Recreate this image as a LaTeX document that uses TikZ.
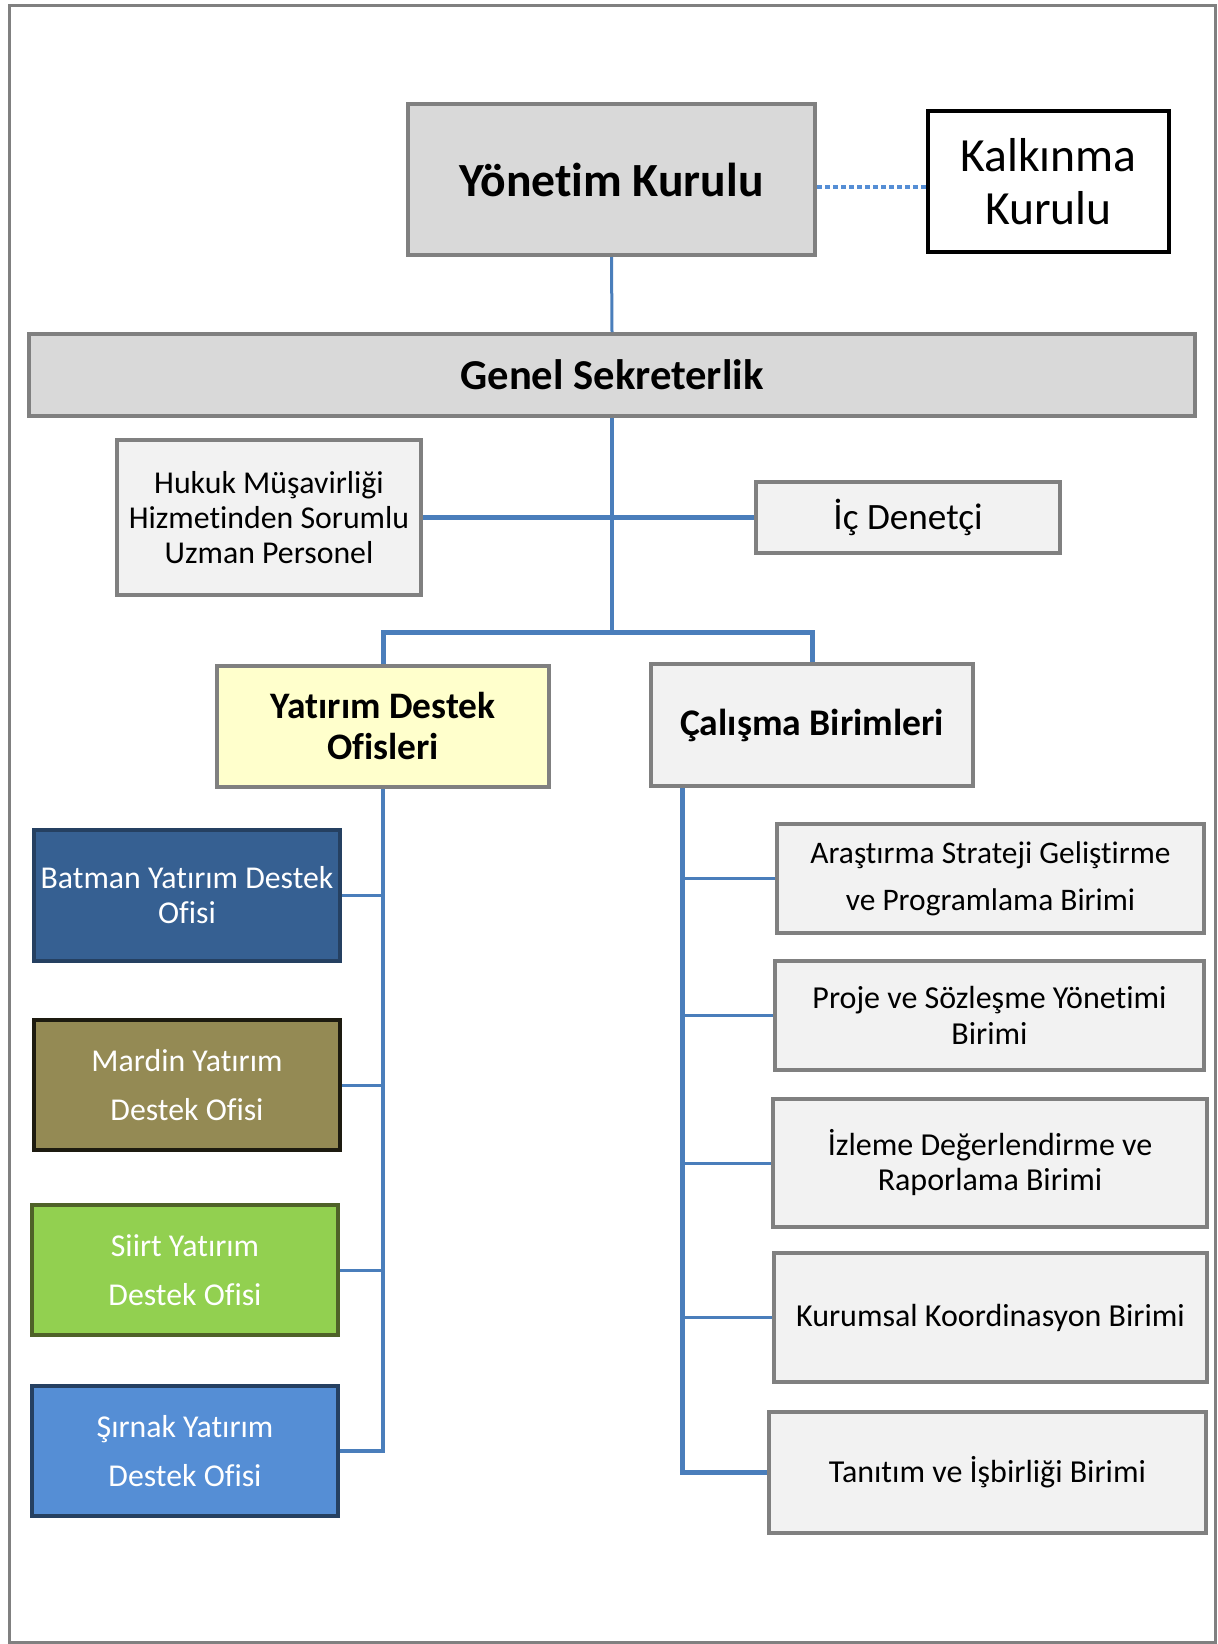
\documentclass[tikz,border=0pt]{standalone}
\usepackage{fontspec}
\setmainfont{Carlito}[Ligatures=NoCommon]
\definecolor{bordergray}{HTML}{808080}
\definecolor{fillgray}{HTML}{D9D9D9}
\definecolor{filllight}{HTML}{F2F2F2}
\definecolor{fillyellow}{HTML}{FFFFCC}
\definecolor{linkblue}{HTML}{4A7EBB}
\definecolor{dotblue}{HTML}{558ED5}
\definecolor{batfill}{HTML}{366092}
\definecolor{batdraw}{HTML}{254061}
\definecolor{marfill}{HTML}{948A54}
\definecolor{mardraw}{HTML}{1D1B10}
\definecolor{siifill}{HTML}{92D050}
\definecolor{siidraw}{HTML}{4F6228}
\definecolor{sirfill}{HTML}{558ED5}
\definecolor{sirdraw}{HTML}{254061}
\tikzset{
  box/.style={draw=bordergray, line width=2pt, fill=filllight, inner sep=0pt, align=center, text=black},
  darkbox/.style={box, fill=fillgray},
  office/.style={box, text=white},
  link/.style={draw=linkblue, line width=1.5pt},
  thicklink/.style={draw=linkblue, line width=2.5pt},
  dotlink/.style={draw=dotblue, line width=2pt, dash pattern=on 2.5pt off 1.5pt},
}
% #1 style, #2 name, #3 x1, #4 y1, #5 x2, #6 y2 (pixels), #7 text
\newcommand{\orgbox}[7]{%
  \pgfmathsetmacro\obcx{(#3+#5)/2}%
  \pgfmathsetmacro\obcy{(#4+#6)/2}%
  \pgfmathsetmacro\obw{(#5-#3)*0.5}%
  \pgfmathsetmacro\obh{(#6-#4)*0.5}%
  \node[#1, minimum width=\obw pt, minimum height=\obh pt] (#2) at (\obcx,\obcy) {#7};}
\begin{document}
\begin{tikzpicture}[x=0.5pt, y=-0.5pt]
\useasboundingbox (0,0) rectangle (1218,1644);
\fill[white] (0,0) rectangle (1218,1644);
\draw[bordergray, line width=1.5pt] (9,5) rectangle (1215,1642);

% top level
\orgbox{darkbox, font={\fontsize{23.8}{28}\selectfont\bfseries}}{yk}{408}{104}{815}{255}{Yönetim Kurulu}
\orgbox{box, draw=black, fill=white, font={\fontsize{23.8}{26.5}\selectfont}}{kk}{928}{111}{1169}{252}{Kalkınma\\Kurulu}
\orgbox{darkbox, font={\fontsize{21.3}{25}\selectfont\bfseries}}{gs}{29}{334}{1195}{416}{Genel Sekreterlik}

\orgbox{box, font={\fontsize{15.9}{17.5}\selectfont}}{hk}{117}{440}{421}{595}{Hukuk Müşavirliği\\Hizmetinden Sorumlu\\Uzman Personel}
\orgbox{box, font={\fontsize{18.6}{21}\selectfont}}{id}{756}{482}{1060}{553}{İç Denetçi}

\orgbox{box, fill=fillyellow, font={\fontsize{18.7}{20.5}\selectfont\bfseries}}{yd}{217}{666}{549}{787}{Yatırım Destek\\Ofisleri}
\orgbox{box, font={\fontsize{18.8}{21}\selectfont\bfseries}}{cb}{651}{664}{973}{786}{Çalışma Birimleri}

% offices
\orgbox{office, fill=batfill, draw=batdraw, font={\fontsize{15.9}{17.5}\selectfont}}{bat}{34}{830}{340}{961}{Batman Yatırım Destek\\Ofisi}
\orgbox{office, fill=marfill, draw=mardraw, font={\fontsize{15.9}{24.5}\selectfont}}{mar}{34}{1020}{340}{1150}{Mardin Yatırım\\Destek Ofisi}
\orgbox{office, fill=siifill, draw=siidraw, font={\fontsize{15.9}{24.5}\selectfont}}{sii}{32}{1205}{338}{1335}{Siirt Yatırım\\Destek Ofisi}
\orgbox{office, fill=sirfill, draw=sirdraw, font={\fontsize{15.9}{24.5}\selectfont}}{sir}{32}{1386}{338}{1516}{Şırnak Yatırım\\Destek Ofisi}

% units
\orgbox{box, font={\fontsize{15.7}{23.5}\selectfont}}{ar}{777}{824}{1204}{933}{Araştırma Strateji Geliştirme\\ve Programlama Birimi}
\orgbox{box, font={\fontsize{16}{18}\selectfont}}{pr}{775}{961}{1204}{1070}{Proje ve Sözleşme Yönetimi\\Birimi}
\orgbox{box, font={\fontsize{16}{17.5}\selectfont}}{iz}{773}{1099}{1207}{1227}{İzleme Değerlendirme ve\\Raporlama Birimi}
\orgbox{box, font={\fontsize{16}{18}\selectfont}}{ku}{774}{1253}{1207}{1382}{Kurumsal Koordinasyon Birimi}
\orgbox{box, font={\fontsize{16}{18}\selectfont}}{ta}{769}{1412}{1206}{1533}{Tanıtım ve İşbirliği Birimi}

% connectors
\coordinate (br) at (612,632);
\coordinate (cv) at (682,788);
\draw[dotlink] (yk.east |- 0,187) -- (kk.west |- 0,187);
\draw[link] (yk.south) -- (gs.north);
\draw[link, line width=2pt] (gs.south) -- (br);
\draw[thicklink] (hk.east) -- (id.west);
\draw[thicklink] (yd.north) |- (br) -| (cb.north);
\draw[link, line width=2pt] (yd.south) |- (sir.east);
\draw[link] (yd.south) |- (bat.east);
\draw[link] (yd.south) |- (mar.east);
\draw[link] (yd.south) |- (sii.east);
\draw[thicklink] (cv) |- (ta.west);
\draw[link] (cv) |- (ar.west);
\draw[link] (cv) |- (pr.west);
\draw[link] (cv) |- (iz.west);
\draw[link] (cv) |- (ku.west);
\end{tikzpicture}
\end{document}
